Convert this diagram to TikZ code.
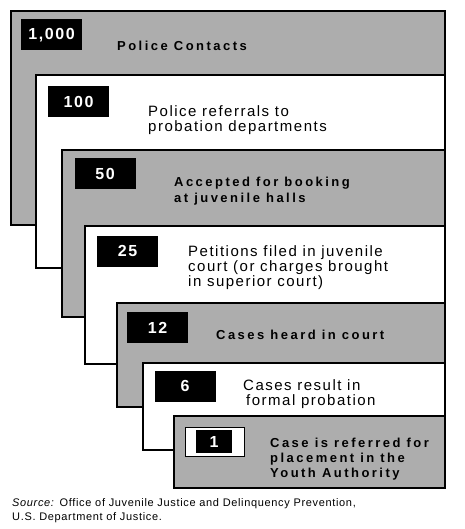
\documentclass[tikz,border=0pt]{standalone}
\usepackage{fontspec}
\setmainfont{Liberation Sans}
\newfontfamily\stagefont{Liberation Sans}[LetterSpace=10]
\newfontfamily\stageboldfont{Liberation Sans}[LetterSpace=19]
\newfontfamily\notefont{Liberation Sans}[LetterSpace=6]

\begin{document}
\begin{tikzpicture}[x=1pt, y=-1pt,
    stagebox/.style={draw, line width=2pt},
    shaded/.style={fill=black!32},
    plainbox/.style={fill=white},
    countbox/.style={fill=black, text=white, inner sep=0pt,
        minimum width=61pt, minimum height=31pt,
        font=\fontsize{16}{16}\stagefont\bfseries},
    stagetext/.style={anchor=base west, align=left, inner sep=0pt,
        font=\fontsize{15}{15}\stagefont},
    stagebold/.style={anchor=base west, align=left, inner sep=0pt,
        font=\fontsize{13}{15}\stageboldfont\bfseries}]
    \useasboundingbox (0,0) rectangle (464,529);

    % Stages: left edge / top / bottom / fill
    \foreach \l/\t/\b/\c in {11/11/225/shaded, 36/75/268/plainbox,
        62/150/317/shaded, 85/226/364/plainbox, 117/303/407/shaded,
        143/363/450/plainbox, 174/416/488/shaded} {
        \draw[stagebox, \c] (\l,\t) rectangle (445,\b); % Stage panel
    }

    % Counts
    \node[countbox] (n1) at (51.5,35) {1,000};
    \node[countbox] (n2) at (78.5,101.5) {100};
    \node[countbox] (n3) at (105,174) {50};
    \node[countbox] (n4) at (127.5,251) {25};
    \node[countbox] (n5) at (157.5,327.5) {12};
    \node[countbox] (n6) at (185,386) {6};
    \node[draw, line width=1pt, fill=white, minimum width=59pt,
        minimum height=29pt] (frame7) at (214.5,441.5) {};
    \node[countbox, minimum width=36pt, minimum height=23pt] (n7) at (214,441.5) {1};

    % Stage texts (placed at the baseline of their last line)
    \node[stagebold] (t1) at (117,51) {Police Contacts};
    \node[stagetext] (t2) at (148,132) {Police referrals to\\probation departments};
    \node[stagebold] (t3) at (174,202) {Accepted for booking\\at juvenile halls};
    \node[stagetext] (t4) at (188,286) {Petitions filed in juvenile\\court (or charges brought\\in superior court)};
    \node[stagebold] (t5) at (216,339) {Cases heard in court};
    \node[stagetext] (t6) at (243,405) {Cases result in\\\hspace{3pt}formal probation};
    \node[stagebold] (t7) at (270,477) {Case is referred for\\placement in the\\Youth Authority};

    % Source
    \node[anchor=base west, align=left, inner sep=0pt,
        font=\fontsize{11}{14}\notefont] (source) at (12,520)
        {\textit{Source:} Office of Juvenile Justice and Delinquency Prevention,\\U.S. Department of Justice.};
\end{tikzpicture}
\end{document}
